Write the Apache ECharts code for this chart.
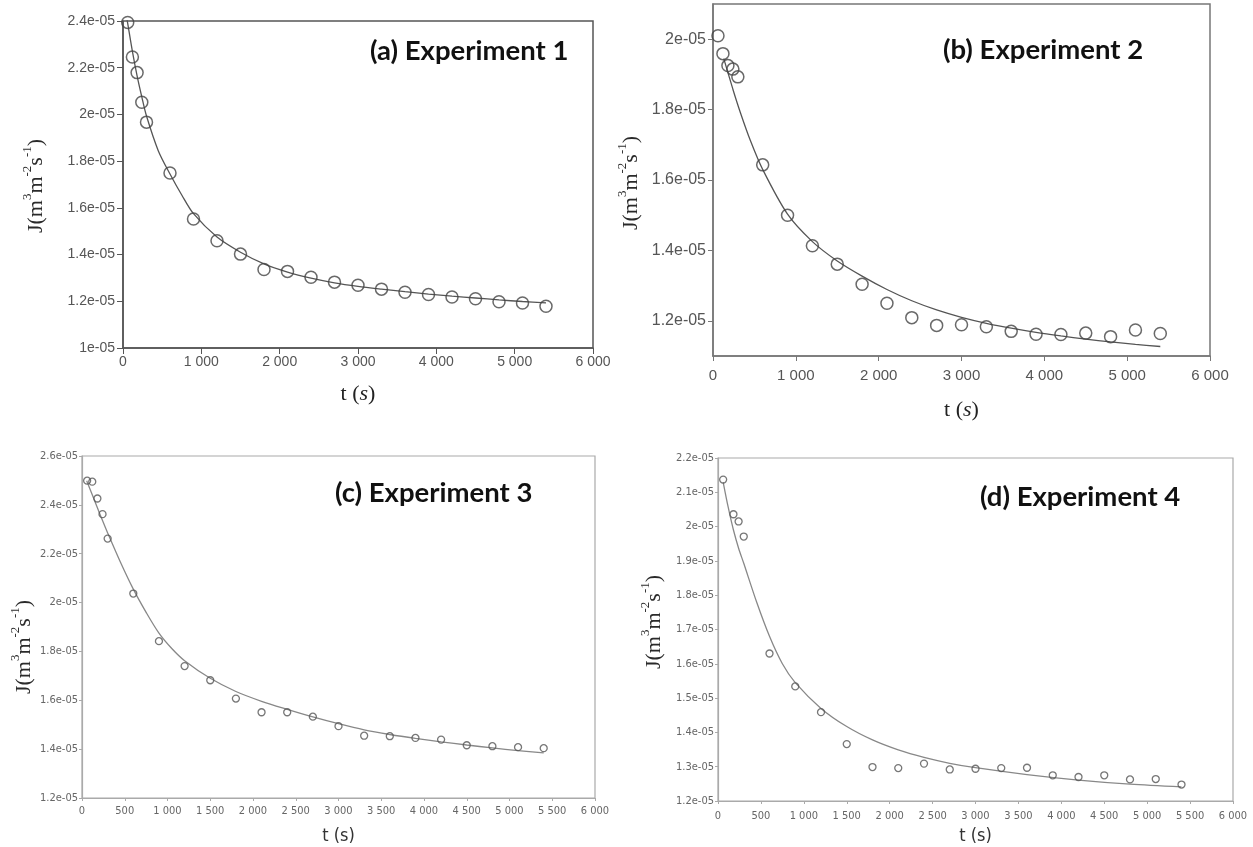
<!DOCTYPE html>
<html>
<head>
<meta charset="utf-8">
<script src="https://cdn.jsdelivr.net/npm/echarts@6/dist/echarts.min.js"></script>
<style>
html,body{margin:0;padding:0;background:#fff;}
#chart{width:1253px;height:847px;}
</style>
</head>
<body>
<div id="chart"></div>
<script>
// ---------- data (J in m3 m-2 s-1, t in s) ----------
const titles = ['(a) Experiment 1', '(b) Experiment 2', '(c) Experiment 3', '(d) Experiment 4'];

const tABC = [60,120,180,240,300,600,900,1200,1500,1800,2100,2400,2700,3000,3300,3600,3900,4200,4500,4800,5100,5400];
const tD   = [60,180,240,300,600,900,1200,1500,1800,2100,2400,2700,3000,3300,3600,3900,4200,4500,4800,5100,5400];

const jA = [2.394e-5,2.246e-5,2.179e-5,2.052e-5,1.967e-5,1.749e-5,1.552e-5,1.459e-5,1.402e-5,1.336e-5,1.328e-5,1.303e-5,1.282e-5,1.269e-5,1.252e-5,1.239e-5,1.229e-5,1.218e-5,1.211e-5,1.198e-5,1.193e-5,1.179e-5];
const jB = [2.010e-5,1.959e-5,1.925e-5,1.915e-5,1.893e-5,1.643e-5,1.500e-5,1.413e-5,1.361e-5,1.304e-5,1.250e-5,1.209e-5,1.187e-5,1.189e-5,1.183e-5,1.170e-5,1.162e-5,1.161e-5,1.165e-5,1.155e-5,1.174e-5,1.164e-5];
const jC = [2.499e-5,2.495e-5,2.426e-5,2.362e-5,2.262e-5,2.037e-5,1.842e-5,1.740e-5,1.682e-5,1.607e-5,1.551e-5,1.551e-5,1.533e-5,1.494e-5,1.455e-5,1.453e-5,1.446e-5,1.439e-5,1.416e-5,1.412e-5,1.408e-5,1.404e-5];
const jD = [2.137e-5,2.036e-5,2.015e-5,1.971e-5,1.630e-5,1.534e-5,1.459e-5,1.366e-5,1.299e-5,1.296e-5,1.309e-5,1.292e-5,1.294e-5,1.296e-5,1.297e-5,1.275e-5,1.270e-5,1.275e-5,1.263e-5,1.264e-5,1.248e-5];

// fitted model curves
const fitTA = [45,60,120,180,240,300,450,600,750,900,1200,1500,1800,2100,2400,2700,3000,3300,3600,3900,4200,4500,4800,5100,5400];
const fitJA = [2.42e-5,2.39e-5,2.27e-5,2.165e-5,2.075e-5,1.993e-5,1.845e-5,1.745e-5,1.655e-5,1.575e-5,1.475e-5,1.410e-5,1.360e-5,1.325e-5,1.299e-5,1.279e-5,1.264e-5,1.252e-5,1.241e-5,1.231e-5,1.222e-5,1.214e-5,1.206e-5,1.199e-5,1.193e-5];
const fitTB = [130,240,330,450,600,900,1200,1500,1800,2100,2400,2700,3000,3300,3600,3900,4200,4500,4800,5100,5400];
const fitJB = [1.945e-5,1.858e-5,1.792e-5,1.713e-5,1.630e-5,1.503e-5,1.425e-5,1.370e-5,1.327e-5,1.289e-5,1.257e-5,1.231e-5,1.210e-5,1.193e-5,1.179e-5,1.167e-5,1.157e-5,1.148e-5,1.140e-5,1.133e-5,1.127e-5];
const fitTC = [55,120,180,240,300,450,600,750,900,1050,1200,1500,1800,2100,2400,2700,3000,3300,3600,3900,4200,4500,4800,5100,5400];
const fitJC = [2.499e-5,2.441e-5,2.388e-5,2.336e-5,2.285e-5,2.165e-5,2.055e-5,1.960e-5,1.875e-5,1.812e-5,1.762e-5,1.690e-5,1.636e-5,1.596e-5,1.563e-5,1.532e-5,1.504e-5,1.479e-5,1.460e-5,1.444e-5,1.430e-5,1.417e-5,1.405e-5,1.394e-5,1.385e-5];
const fitTD = [60,120,180,240,300,450,600,750,900,1200,1500,1800,2100,2400,2700,3000,3600,4200,4800,5400];
const fitJD = [2.130e-5,2.055e-5,1.990e-5,1.937e-5,1.893e-5,1.780e-5,1.680e-5,1.600e-5,1.545e-5,1.470e-5,1.417e-5,1.378e-5,1.349e-5,1.327e-5,1.310e-5,1.297e-5,1.277e-5,1.261e-5,1.249e-5,1.241e-5];

// tick values
const xTicksAB = [0,1000,2000,3000,4000,5000,6000];
const xTicksCD = [0,500,1000,1500,2000,2500,3000,3500,4000,4500,5000,5500,6000];
const yTicksA = [1.0e-5,1.2e-5,1.4e-5,1.6e-5,1.8e-5,2.0e-5,2.2e-5,2.4e-5];
const yTicksB = [1.2e-5,1.4e-5,1.6e-5,1.8e-5,2.0e-5];
const yTicksC = [1.2e-5,1.4e-5,1.6e-5,1.8e-5,2.0e-5,2.2e-5,2.4e-5,2.6e-5];
const yTicksD = [1.2e-5,1.3e-5,1.4e-5,1.5e-5,1.6e-5,1.7e-5,1.8e-5,1.9e-5,2.0e-5,2.1e-5,2.2e-5];

// ---------- helpers ----------
const zip = (a, b) => a.map((v, i) => [v, b[i]]);
const xfmt = v => v >= 1000 ? Math.floor(v / 1000) + ' ' + String(v % 1000).padStart(3, '0') : String(v);
const yfmt = v => parseFloat((v * 1e5).toPrecision(6)) + 'e-05';

const SANS = "'Liberation Sans', Arial, sans-serif";
const NARROW = "'Liberation Sans Narrow', 'DejaVu Sans Condensed', 'Liberation Sans', sans-serif";
const SERIF = "'Liberation Serif', 'Times New Roman', serif";
const TITLEF = "Lato, 'Open Sans', sans-serif";

const panels = [
  {grid:{left:123, top:21, width:470, height:327}, ymin:1.0e-5, ymax:2.4e-5, xt:xTicksAB, yt:yTicksA,
   frame:'#555', fw:1.5, tickLen:6, xLab:{fontSize:14, fontFamily:SANS, color:'#555', margin:7},
   yLab:{fontSize:14, fontFamily:SANS, color:'#555', margin:8}, serifName:true, nameGap:33},
  {grid:{left:713, top:4, width:497, height:352}, ymin:1.1e-5, ymax:2.1e-5, xt:xTicksAB, yt:yTicksB,
   frame:'#777', fw:1.5, tickLen:5, xLab:{fontSize:15, fontFamily:SANS, color:'#555', margin:12},
   yLab:{fontSize:16, fontFamily:SANS, color:'#555', margin:7}, serifName:true, nameGap:41},
  {grid:{left:82, top:456, width:513, height:342}, ymin:1.2e-5, ymax:2.6e-5, xt:xTicksCD, yt:yTicksC,
   frame:'#aaa', fw:1.2, tickLen:3, xLab:{fontSize:11, fontFamily:NARROW, color:'#666', margin:8},
   yLab:{fontSize:11, fontFamily:NARROW, color:'#666', margin:4}, serifName:false, nameGap:28},
  {grid:{left:718, top:458, width:515, height:343}, ymin:1.2e-5, ymax:2.2e-5, xt:xTicksCD, yt:yTicksD,
   frame:'#aaa', fw:1.2, tickLen:3, xLab:{fontSize:11, fontFamily:NARROW, color:'#666', margin:10},
   yLab:{fontSize:11, fontFamily:NARROW, color:'#666', margin:4}, serifName:false, nameGap:25}
];

const titlePos = [{left:370, top:37}, {left:943, top:36}, {left:335, top:479}, {left:980, top:483}];
const yNamePos = [[34,186],[629,183],[22,647],[652,622]];

const pts = [zip(tABC, jA), zip(tABC, jB), zip(tABC, jC), zip(tD, jD)];
const fits = [zip(fitTA, fitJA), zip(fitTB, fitJB), zip(fitTC, fitJC), zip(fitTD, fitJD)];

const option = {
  animation: false,
  backgroundColor: '#fff',
  title: titles.map((t, i) => ({
    text: t, left: titlePos[i].left, top: titlePos[i].top, padding: 0,
    textStyle: {fontFamily: TITLEF, fontWeight: 'bold', fontSize: 27.5, color: '#111'}
  })),
  grid: panels.map(p => Object.assign({show: true, borderColor: p.frame, borderWidth: p.fw, backgroundColor: '#fff'}, p.grid)),
  xAxis: panels.map((p, i) => ({
    type: 'value', gridIndex: i, min: 0, max: 6000,
    splitLine: {show: false},
    axisLine: {show: true, onZero: false, lineStyle: {color: p.frame, width: p.fw}},
    axisTick: {show: true, length: p.tickLen, customValues: p.xt, lineStyle: {color: p.frame, width: 1}},
    axisLabel: Object.assign({customValues: p.xt, formatter: xfmt}, p.xLab),
    name: p.serifName ? '{n|t (}{i|s}{n|)}' : 't (s)',
    nameLocation: 'middle', nameGap: p.nameGap,
    nameTextStyle: p.serifName ? {
      rich: {
        n: {fontFamily: SERIF, fontSize: 22, color: '#222', lineHeight: 26},
        i: {fontFamily: SERIF, fontStyle: 'italic', fontSize: 22, color: '#222', lineHeight: 26}
      }
    } : {fontFamily: NARROW, fontSize: 18, color: '#333', lineHeight: 20}
  })),
  yAxis: panels.map((p, i) => ({
    type: 'value', gridIndex: i, min: p.ymin, max: p.ymax,
    splitLine: {show: false},
    axisLine: {show: true, onZero: false, lineStyle: {color: p.frame, width: p.fw}},
    axisTick: {show: true, length: p.tickLen, customValues: p.yt, lineStyle: {color: p.frame, width: 1}},
    axisLabel: Object.assign({customValues: p.yt, formatter: yfmt}, p.yLab)
  })),
  series: [].concat(
    fits.map((d, i) => ({
      type: 'line', xAxisIndex: i, yAxisIndex: i, data: d, smooth: 0.3,
      showSymbol: false, z: 2,
      lineStyle: {color: i < 2 ? '#555' : '#888', width: 1.3}
    })),
    pts.map((d, i) => ({
      type: 'scatter', xAxisIndex: i, yAxisIndex: i, data: d, z: 3,
      symbol: 'circle', symbolSize: i < 2 ? 12 : 7,
      itemStyle: {color: 'rgba(255,255,255,0)', borderColor: i < 2 ? '#444' : '#555', borderWidth: i < 2 ? 1.5 : 1.3}
    }))
  ),
  graphic: yNamePos.map((pos, i) => ({
    type: 'text', x: pos[0], y: pos[1], rotation: Math.PI / 2, z: 10,
    style: {
      text: '{n|J(m}{s|3}{n|m}{s|-2}{n|s}{s|-1}{n|)}',
      align: 'center', verticalAlign: 'middle',
      rich: {
        n: {fontFamily: SERIF, fontSize: 22, lineHeight: 26, verticalAlign: 'bottom', fill: '#2a2a2a'},
        s: {fontFamily: SERIF, fontSize: 13, lineHeight: 16, verticalAlign: 'top', fill: '#2a2a2a'}
      }
    }
  }))
};

const chart = echarts.init(document.getElementById('chart'), null, {renderer: 'canvas'});
chart.setOption(option);
</script>
</body>
</html>
